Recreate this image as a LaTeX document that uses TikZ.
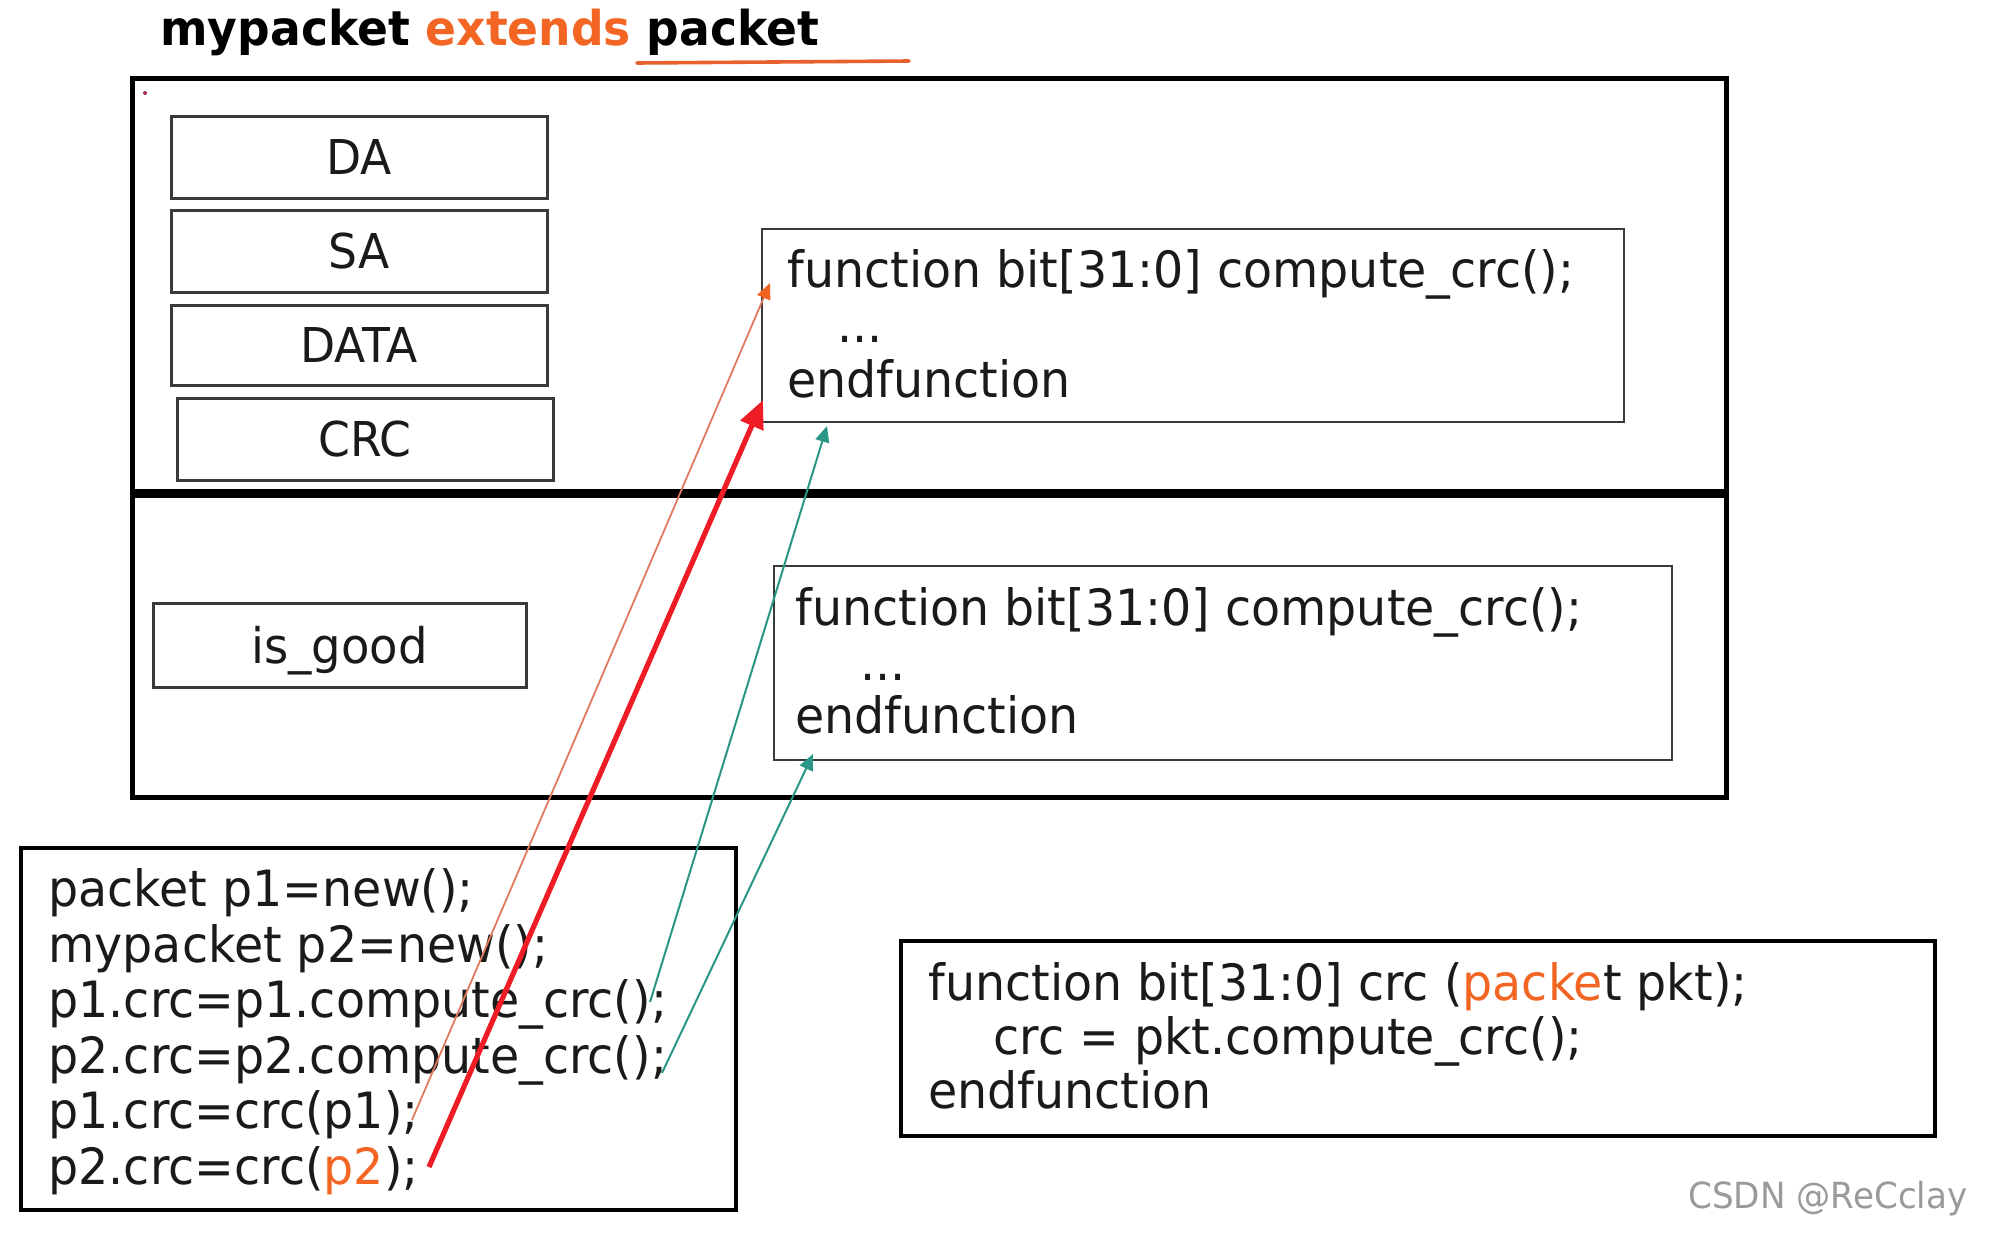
\documentclass[tikz,border=0pt]{standalone}
\usepackage{fontspec}
\setmainfont{DejaVu Sans}[FakeStretch=0.95]
\usetikzlibrary{arrows.meta,fit}
\definecolor{txt}{HTML}{1A1A1A}
\definecolor{orng}{HTML}{F26522}
\definecolor{uline}{HTML}{E8602C}
\definecolor{thinor}{HTML}{E07A5F}
\definecolor{orhead}{HTML}{F26322}
\definecolor{redarr}{HTML}{EE1C25}
\definecolor{tealarr}{HTML}{2A9686}
\definecolor{boxgray}{HTML}{3A3A3A}
\definecolor{wmgray}{HTML}{9A9A9A}
\definecolor{dotc}{HTML}{A0304A}
\begin{document}
\begin{tikzpicture}[x=0.5pt,y=-0.5pt,
  outerbox/.style={draw=black, line width=2.5pt, inner sep=0pt},
  fieldbox/.style={draw=boxgray, line width=1.5pt, inner sep=0pt, text=txt, font=\fontsize{24}{28}\selectfont, minimum width=188pt, minimum height=41pt},
  funcbox/.style={draw=boxgray, line width=1.4pt, inner sep=0pt},
  codebox/.style={draw=black, line width=2.4pt, inner sep=0pt},
  code/.style={anchor=base west, inner sep=0pt, text=txt, font=\fontsize{25}{30}\selectfont},
  thinarrow/.style={thinor, line width=0.9pt, -{Triangle[length=8pt,width=7pt,color=orhead]}},
  redarrow/.style={redarr, line width=2.6pt, -{Triangle[length=14pt,width=12pt]}},
  tealarrow/.style={tealarr, line width=1pt, -{Triangle[length=8pt,width=7pt]}}
]
\useasboundingbox (0,0) rectangle (2000,1237);
\fill[white] (0,0) rectangle (2000,1237);

% title
\node[anchor=base west, inner sep=0pt, text=black, font=\fontsize{24}{28}\selectfont\bfseries] (title) at (160,45) {mypacket \textcolor{orng}{extends} packet};
\coordinate (ula) at (637,63);
\coordinate (ulb) at (909,61);
\draw[uline, line width=1.8pt, line cap=round] (ula) -- (ulb);

% outer class box
\node[outerbox, fit={(132,78) (1726,797)}] (classbox) {};
\coordinate (divl) at (132,493);
\coordinate (divr) at (1726,493);
\draw[line width=4.5pt] (divl) -- (divr);
\coordinate (dot) at (145,93);
\fill[dotc] (dot) circle[radius=2];

% fields
\node[fieldbox] (da) at (359,157) {DA};
\node[fieldbox] (sa) at (359,251) {SA};
\node[fieldbox, minimum height=40pt] (data) at (359,345) {DATA};
\node[fieldbox] (crcf) at (365,439) {CRC};
\node[fieldbox, minimum width=186.5pt, minimum height=42pt, font=\fontsize{24.5}{28}\selectfont, text depth=0pt] (isgood) at (339.5,645) {is\_good};

% function boxes
\node[funcbox, fit={(762,229) (1624,422)}] (fbox1) {};
\node[code] (f1a) at (787,287) {function bit[31:0] compute\_crc();};
\node[code] (f1b) at (837,342) {...};
\node[code] (f1c) at (787,397) {endfunction};

\node[funcbox, fit={(774,566) (1672,760)}] (fbox2) {};
\node[code] (f2a) at (795,625) {function bit[31:0] compute\_crc();};
\node[code] (f2b) at (860,680) {...};
\node[code] (f2c) at (795,733) {endfunction};

% code box
\node[codebox, fit={(21,848) (736,1210)}] (codebox) {};
\node[code] (c1) at (48,906) {packet p1=new();};
\node[code] (c2) at (48,962) {mypacket p2=new();};
\node[code] (c3) at (48,1017) {p1.crc=p1.compute\_crc();};
\node[code] (c4) at (48,1073) {p2.crc=p2.compute\_crc();};
\node[code] (c5) at (48,1128) {p1.crc=crc(p1);};
\node[code] (c6) at (48,1184) {p2.crc=crc(\textcolor{orng}{p2});};

% crc function box
\node[codebox, fit={(901,941) (1935,1136)}] (crcbox) {};
\node[code] (k1) at (928,1000) {function bit[31:0] crc (\textcolor{orng}{packe}t pkt);};
\node[code] (k2) at (993,1054) {crc = pkt.compute\_crc();};
\node[code] (k3) at (928,1108) {endfunction};

% watermark
\node[anchor=base east, inner sep=0pt, text=wmgray, font=\fontsize{18}{20}\selectfont] (wm) at (1968,1208) {CSDN @ReCclay};

% arrows
\coordinate (s1) at (412,1120);
\coordinate (e1) at (770,283);
\coordinate (s2) at (429,1167);
\coordinate (e2) at (763,400);
\coordinate (s3) at (650,1002);
\coordinate (e3) at (827,426);
\coordinate (s4) at (662,1073);
\coordinate (e4) at (813,754);
\draw[thinarrow] (s1) -- (e1);
\draw[tealarrow] (s3) -- (e3);
\draw[tealarrow] (s4) -- (e4);
\draw[redarrow] (s2) -- (e2);
\end{tikzpicture}
\end{document}
